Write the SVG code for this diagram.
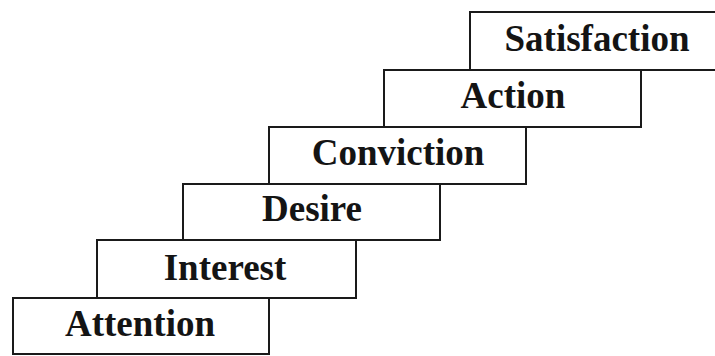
<svg xmlns="http://www.w3.org/2000/svg" width="715" height="356" viewBox="0 0 715 356">
  <style>
    .box { fill: #ffffff; stroke: #1a1a1a; stroke-width: 2; }
    .lbl { font-family: "Liberation Serif", "Times New Roman", serif; font-weight: bold; font-size: 37px; fill: #141414; text-anchor: middle; }
  </style>
  <rect x="0" y="0" width="715" height="356" fill="#ffffff"/>
  <g id="connectors"></g>
  <g id="satisfaction">
    <rect class="box" x="470" y="12" width="260" height="58"/>
    <text class="lbl" x="597" y="51">Satisfaction</text>
  </g>
  <g id="action">
    <rect class="box" x="384" y="70" width="257" height="57"/>
    <text class="lbl" x="513" y="108">Action</text>
  </g>
  <g id="conviction">
    <rect class="box" x="269" y="127" width="257" height="57"/>
    <text class="lbl" x="398" y="165">Conviction</text>
  </g>
  <g id="desire">
    <rect class="box" x="183" y="184" width="257" height="56"/>
    <text class="lbl" x="312" y="221">Desire</text>
  </g>
  <g id="interest">
    <rect class="box" x="97" y="240" width="259" height="58"/>
    <text class="lbl" x="225" y="280">Interest</text>
  </g>
  <g id="attention">
    <rect class="box" x="13" y="298" width="256" height="56"/>
    <text class="lbl" x="140" y="336">Attention</text>
  </g>
</svg>
